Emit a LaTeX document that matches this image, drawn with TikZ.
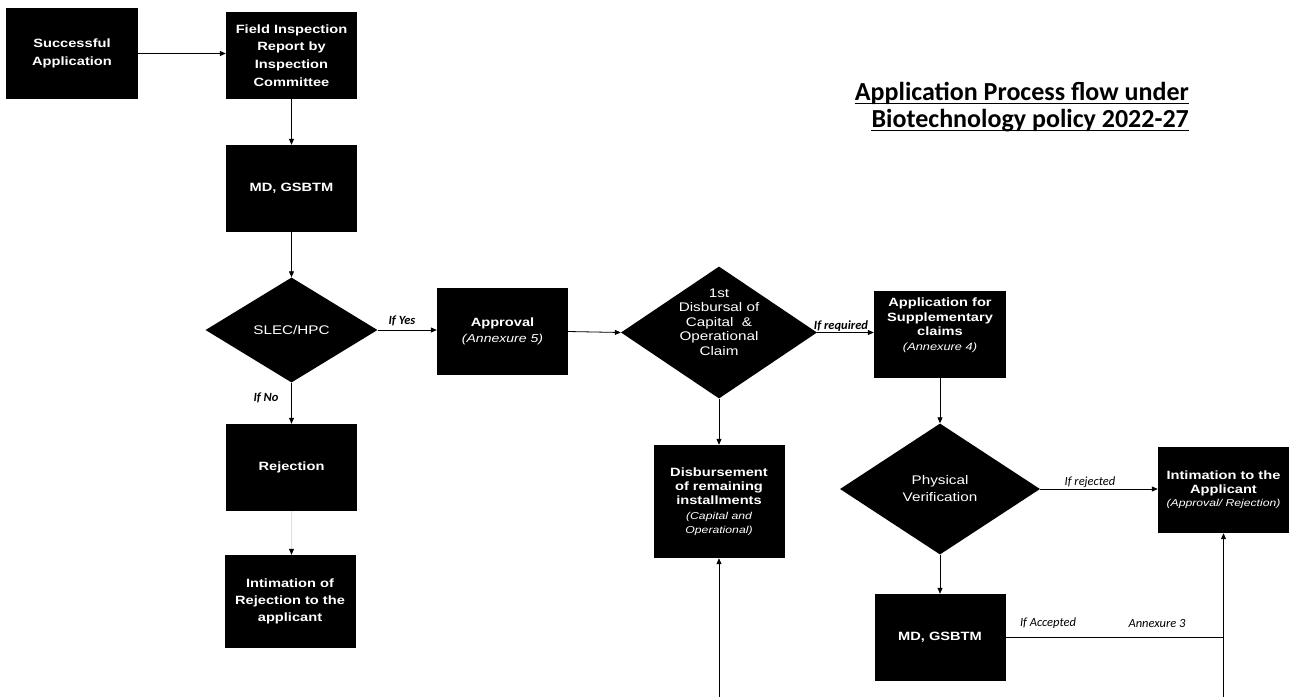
\documentclass[tikz,border=0pt]{standalone}
\usepackage{fontspec}
\usetikzlibrary{shapes.geometric,arrows.meta}
\newfontfamily\bxf{Liberation Sans}[FakeStretch=1.22]
\newfontfamily\ttlf{Carlito}
\newfontfamily\lblf{Carlito}
\tikzset{
  box/.style={rectangle, fill=black, text=white, inner sep=0pt, minimum width=131pt, minimum height=87pt, align=center, font=\bxf\bfseries\fontsize{12}{17.5}\selectfont},
  dia/.style={diamond, fill=black, text=white, inner sep=0pt, align=center, font=\bxf\fontsize{12.5}{17}\selectfont},
  dtxt/.style={text=white, inner sep=0pt, align=center, font=\bxf\fontsize{12.5}{14.5}\selectfont},
  btxt/.style={text=white, inner sep=0pt, align=center, font=\bxf\bfseries\fontsize{12}{14.5}\selectfont},
  lbl/.style={inner sep=0pt, font=\lblf\itshape\fontsize{12.5}{14}\selectfont},
  lblb/.style={inner sep=0pt, font=\lblf\bfseries\itshape\fontsize{12.5}{14}\selectfont},
  ttl/.style={inner sep=0pt, font=\ttlf\bfseries\fontsize{26}{30}\selectfont},
  arr/.style={-{Triangle[length=6pt,width=5pt]}, line width=0.8pt},
  farr/.style={-{Triangle[length=6pt,width=5pt,color=black]}, line width=0.8pt, draw=black!12},
  ln/.style={line width=0.8pt}
}
\newcommand{\itl}[2]{{\mdseries\itshape\fontsize{#1}{#1}\selectfont #2}}
\begin{document}
\begin{tikzpicture}[x=1pt,y=-1pt]
\fill[white] (0,0) rectangle (1297,697);
\useasboundingbox (0,0) rectangle (1297,697);

% title
\node[ttl, anchor=base east] (t1) at (1189,100) {Application Process flow under};
\node[ttl, anchor=base east] (t2) at (1189,127) {Biotechnology policy 2022-27};
\draw[line width=1.6pt] ([yshift=-3.5pt]t1.base west) -- ([yshift=-3.5pt]t1.base east);
\draw[line width=1.6pt] ([yshift=-3.5pt]t2.base west) -- ([yshift=-3.5pt]t2.base east);

% nodes
\node[box, minimum width=132pt, minimum height=91pt, font=\bxf\bfseries\fontsize{12}{18}\selectfont] (succ) at (72,53.5) {Successful\\Application};
\node[box, font=\bxf\bfseries\fontsize{12}{17.7}\selectfont] (field) at (291.5,55.5) {Field Inspection\\Report by\\Inspection\\Committee};
\node[box] (md1) at (291.5,188.5) {MD, GSBTM};
\node[dia, minimum width=172pt, minimum height=105pt] (slec) at (291.5,330) {SLEC/HPC};
\node[box, font=\bxf\bfseries\fontsize{12}{15.5}\selectfont] (appr) at (502.5,331.5) {Approval\\\itl{11.5}{(Annexure 5)}};
\node[dia, minimum width=196pt, minimum height=132pt] (disb1) at (719,332.5) {};
\node[dtxt] (disb1t) at (719,322) {1st\\Disbursal of\\Capital\ \ \&\\Operational\\Claim};
\node[box, minimum width=132pt] (supp) at (940,334.5) {};
\node[btxt] (suppt) at (940,325) {Application for\\Supplementary\\claims\\\itl{10.5}{(Annexure 4)}};
\node[box, minimum height=113pt, font=\bxf\bfseries\fontsize{12}{14.3}\selectfont] (disb2) at (719,501.5) {Disbursement\\of remaining\\installments\\\itl{10}{(Capital and}\\\itl{10}{Operational)}};
\node[dia, minimum width=200pt, minimum height=131pt] (phys) at (940,489) {Physical\\Verification};
\node[box, minimum height=86pt, font=\bxf\bfseries\fontsize{12}{13.5}\selectfont] (intim) at (1223.5,490) {Intimation to the\\Applicant\\\itl{10}{(Approval/ Rejection)}};
\node[box] (md2) at (940,637.5) {MD, GSBTM};
\node[box] (rej) at (291.5,467.5) {Rejection};
\node[box, minimum height=93pt, font=\bxf\bfseries\fontsize{12}{17}\selectfont] (introj) at (290,601.5) {Intimation of\\Rejection to the\\applicant};

\coordinate (b1) at (719,697);
\coordinate (b2) at (1223.5,697);

% connectors
\draw[arr] (succ.east) -- (succ.east -| field.west);
\draw[arr] (field.south) -- (md1.north);
\draw[arr] (md1.south) -- (slec.north);
\draw[arr] (slec.east) -- (slec.east -| appr.west);
\draw[arr] (slec.south) -- (rej.north);
\draw[farr] (rej.south) -- (rej.south |- introj.north);
\draw[arr] (appr.east) -- (disb1.west);
\draw[arr] (disb1.east) -- (disb1.east -| supp.west);
\draw[arr] (disb1.south) -- (disb2.north);
\draw[arr] (b1) -- (disb2.south);
\draw[arr] (supp.south) -- (phys.north);
\draw[arr] (phys.east) -- (phys.east -| intim.west);
\draw[arr] (phys.south) -- (md2.north);
\draw[ln] (md2.east) -- (md2.east -| intim.south);
\draw[arr] (b2) -- (intim.south);

% labels
\node[lblb] (lyes) at (402,321) {If Yes};
\node[lblb] (lno) at (266,398) {If No};
\node[lblb] (lreq) at (841,326) {If required};
\node[lbl] (lrej) at (1090,482) {If rejected};
\node[lbl] (lacc) at (1048,623) {If Accepted};
\node[lbl] (lann) at (1157,623) {Annexure 3};
\end{tikzpicture}
\end{document}
